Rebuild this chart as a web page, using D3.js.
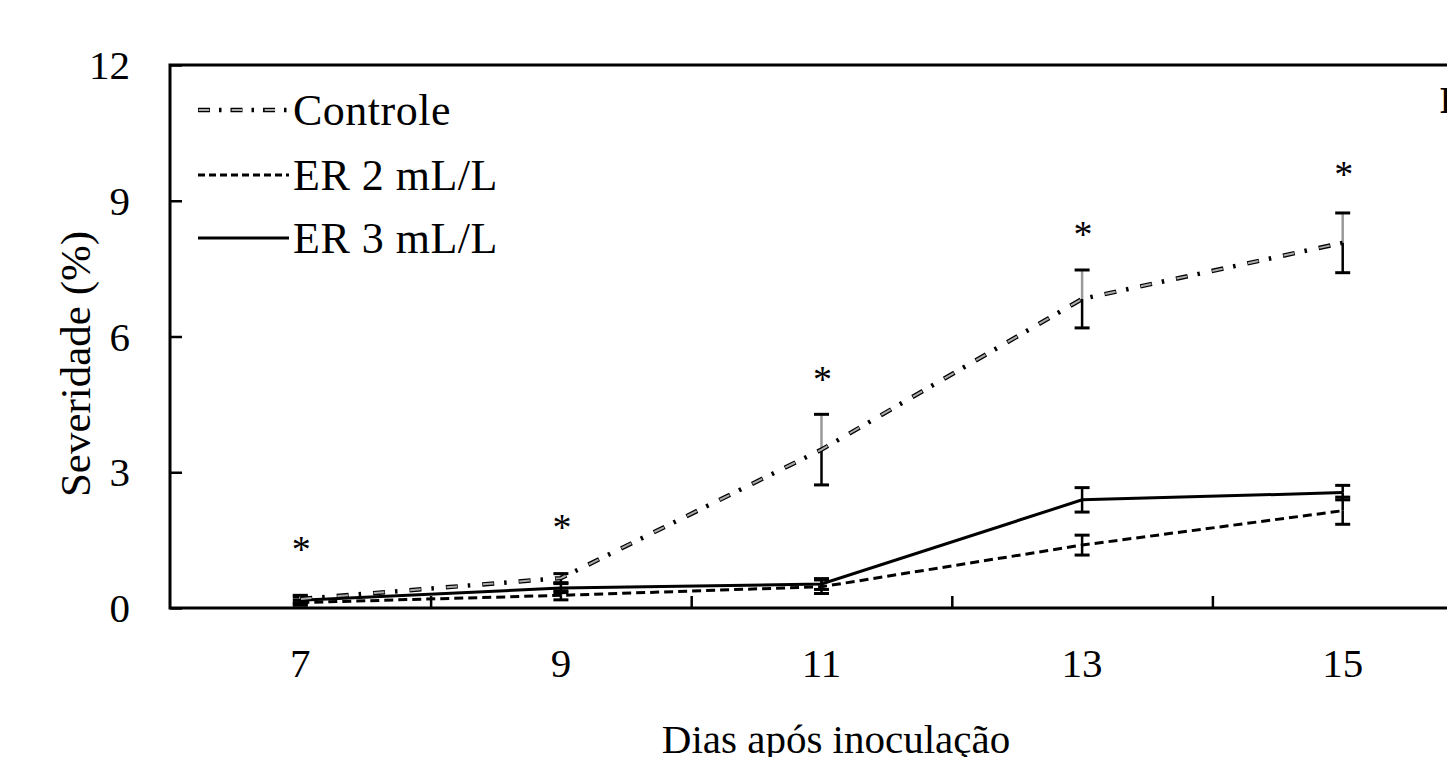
<!DOCTYPE html>
<html>
<head>
<meta charset="utf-8">
<script src="https://cdn.jsdelivr.net/npm/d3@7"></script>
<style>
  body { margin: 0; background: #fff; overflow: hidden; }
  text { font-family: "Liberation Serif", serif; fill: #000; }
</style>
</head>
<body>
<svg></svg>
<script>
let days = [7, 9, 11, 13, 15]
let controle = [0.2, 0.66, 3.5, 6.83, 8.07]
let controleErr = [0.08, 0.1, 0.78, 0.64, 0.66]
let er2 = [0.12, 0.28, 0.47, 1.39, 2.15]
let er2Err = [0.06, 0.1, 0.15, 0.22, 0.3]
let er3 = [0.17, 0.44, 0.53, 2.39, 2.55]
let er3Err = [0.08, 0.1, 0.12, 0.27, 0.16]
let starY = [1.44, 1.92, 5.2, 8.4, 9.72]   // asterisk heights (significance marks)
let yTicks = [0, 3, 6, 9, 12]
let xTickMarks = [8, 10, 12, 14]

let width = 1447
let height = 757
let plotLeft = 170
let plotTop = 65
let plotBottom = 608
let plotRight = 1473

let svg = d3.select('svg').attr('width', width).attr('height', height)

let xScale = d3.scaleLinear().domain([6, 16]).range([plotLeft, plotRight])
let yScale = d3.scaleLinear().domain([0, 12]).range([plotBottom, plotTop])

// frame
svg.append('path')
  .attr('d', `M${plotRight},${plotTop}H${plotLeft}V${plotBottom}H${plotRight}`)
  .attr('fill', 'none').attr('stroke', '#000').attr('stroke-width', 3)

// y axis ticks (inward) and labels
let yAxis = d3.axisRight(yScale).tickValues(yTicks).tickSize(12).tickFormat('')
svg.append('g').attr('transform', `translate(${plotLeft},0)`).call(yAxis)
  .call(g => g.select('.domain').remove())
  .call(g => g.selectAll('line').attr('stroke-width', 2.5))
svg.append('g').selectAll('text').data(yTicks).enter().append('text')
  .attr('x', 130).attr('y', d => yScale(d) + 14)
  .attr('text-anchor', 'end').attr('font-size', 41)
  .text(d => d)

// x axis ticks (inward) and labels at days
let xAxis = d3.axisTop(xScale).tickValues(xTickMarks).tickSize(12).tickFormat('')
svg.append('g').attr('transform', `translate(0,${plotBottom})`).call(xAxis)
  .call(g => g.select('.domain').remove())
  .call(g => g.selectAll('line').attr('stroke-width', 2.5))
svg.append('g').selectAll('text').data(days).enter().append('text')
  .attr('x', d => xScale(d)).attr('y', 677)
  .attr('text-anchor', 'middle').attr('font-size', 41)
  .text(d => d)

// axis titles
svg.append('text').attr('x', 836).attr('y', 753)
  .attr('text-anchor', 'middle').attr('font-size', 41)
  .text('Dias após inoculação')
svg.append('text').attr('transform', 'translate(90,364) rotate(-90)')
  .attr('text-anchor', 'middle').attr('font-size', 43)
  .text('Severidade (%)')

svg.append('text').attr('x', 1440).attr('y', 113)
  .attr('font-size', 38).attr('font-weight', 'bold').text('B')

let line = d3.line().x(d => xScale(d[0])).y(d => yScale(d[1]))
let pts = arr => days.map((d, i) => [d, arr[i]])

// error bars
let drawErr = (vals, errs, upColor) => {
  let g = svg.append('g')
  days.forEach((d, i) => {
    let x = xScale(d)
    let yt = yScale(vals[i] + errs[i])
    let yb = yScale(vals[i] - errs[i])
    let ym = yScale(vals[i])
    g.append('line').attr('x1', x).attr('x2', x).attr('y1', ym).attr('y2', yt)
      .attr('stroke', upColor).attr('stroke-width', 2.5)
    g.append('line').attr('x1', x).attr('x2', x).attr('y1', ym).attr('y2', yb)
      .attr('stroke', '#000').attr('stroke-width', 2.5)
    g.append('line').attr('x1', x - 7.5).attr('x2', x + 7.5).attr('y1', yt).attr('y2', yt)
      .attr('stroke', '#000').attr('stroke-width', 3)
    g.append('line').attr('x1', x - 7.5).attr('x2', x + 7.5).attr('y1', yb).attr('y2', yb)
      .attr('stroke', '#000').attr('stroke-width', 3)
  })
}

// series lines
svg.append('path').datum(pts(er2)).attr('d', line)
  .attr('fill', 'none').attr('stroke', '#000').attr('stroke-width', 3)
  .attr('stroke-dasharray', '9 5')
svg.append('path').datum(pts(er3)).attr('d', line)
  .attr('fill', 'none').attr('stroke', '#000').attr('stroke-width', 3)

drawErr(er2, er2Err, '#000')
drawErr(er3, er3Err, '#000')
drawErr(controle, controleErr, '#999')

let ctrlDash = '12 10 2.5 12'
let ctrlFill = '0 0.7 10.6 25.2'
svg.append('path').datum(pts(controle)).attr('d', line)
  .attr('fill', 'none').attr('stroke', '#000').attr('stroke-width', 4.5)
  .attr('stroke-dasharray', ctrlDash)
svg.append('path').datum(pts(controle)).attr('d', line)
  .attr('fill', 'none').attr('stroke', '#aaa').attr('stroke-width', 2)
  .attr('stroke-dasharray', ctrlFill)

// significance asterisks
svg.append('g').selectAll('text').data(days).enter().append('text')
  .attr('x', d => xScale(d) + 1).attr('y', (d, i) => yScale(starY[i]) + 19)
  .attr('text-anchor', 'middle').attr('font-size', 38)
  .text('*')

// legend
let legend = [
  { name: 'Controle', y: 110, kind: 'ctrl' },
  { name: 'ER 2 mL/L', y: 175, kind: 'er2' },
  { name: 'ER 3 mL/L', y: 238, kind: 'er3' }
]
legend.forEach(l => {
  let seg = svg.append('g')
  if (l.kind === 'ctrl') {
    seg.append('line').attr('x1', 198).attr('x2', 289).attr('y1', l.y).attr('y2', l.y)
      .attr('stroke', '#000').attr('stroke-width', 4.5).attr('stroke-dasharray', '12 9 2.5 9')
    seg.append('line').attr('x1', 198).attr('x2', 289).attr('y1', l.y).attr('y2', l.y)
      .attr('stroke', '#aaa').attr('stroke-width', 2).attr('stroke-dasharray', '0 0.7 10.6 21.7')
  } else {
    seg.append('line').attr('x1', 198).attr('x2', 289).attr('y1', l.y).attr('y2', l.y)
      .attr('stroke', '#000').attr('stroke-width', 3)
      .attr('stroke-dasharray', l.kind === 'er2' ? '7 4' : null)
  }
  svg.append('text').attr('x', 293).attr('y', l.y + 15)
    .attr('font-size', 44).attr('letter-spacing', 0.5).text(l.name)
})
</script>
</body>
</html>
